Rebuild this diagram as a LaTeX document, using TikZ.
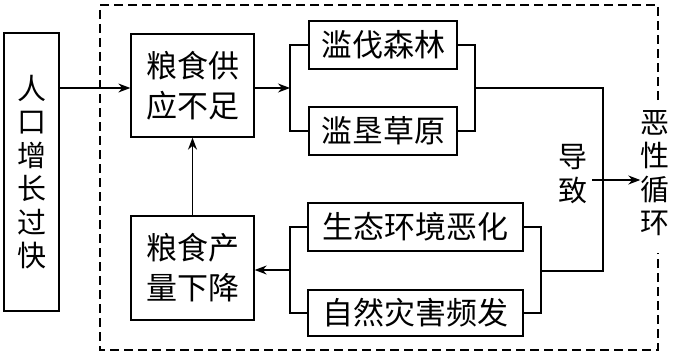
\documentclass[tikz,border=0pt]{standalone}
\usepackage{fontspec}
\setmainfont{Noto Sans CJK SC}
\usepackage{tikz}
\usetikzlibrary{arrows.meta}

\begin{document}
\begin{tikzpicture}[
  x=1pt,y=-1pt,
  box/.style ={rectangle,draw,line width=1.3pt,inner sep=0pt,
               align=center,font=\fontsize{31}{40}\selectfont},
  vtext/.style={inner sep=0pt,align=center,font=\fontsize{29}{33.5}\selectfont},
  link/.style ={line width=1.3pt},
  arr/.style  ={link,-{Stealth[length=12pt,width=9pt]}},
  frame/.style={line width=1.1pt,dash pattern=on 9pt off 5pt}
]
\useasboundingbox (0,0) rectangle (676,353);

% left: cause
\node[box,minimum width=55pt,minimum height=278pt,font=\fontsize{29}{33.5}\selectfont]
  (pop) at (31.5,172) {人\\口\\增\\长\\过\\快};

% inside the cycle
\node[box,minimum width=123pt,minimum height=103pt] (lack)   at (192.5,85.5) {粮食供\\应不足};
\node[box,minimum width=123pt,minimum height=104pt] (drop)   at (192.5,268)  {粮食产\\量下降};
\node[box,minimum width=148pt,minimum height=48pt]  (forest) at (383,45)     {滥伐森林};
\node[box,minimum width=148pt,minimum height=48pt]  (grass)  at (383,131)    {滥垦草原};
\node[box,minimum width=215pt,minimum height=48pt]  (eco)    at (415.5,227)  {生态环境恶化};
\node[box,minimum width=215pt,minimum height=46pt]  (hazard) at (415.5,313)  {自然灾害频发};

\node[vtext] (lead)  at (573,174) {导\\致};
\node[vtext] (cycle) at (655,173) {恶\\性\\循\\环};

% bracket joints
\coordinate (jtl) at (290,88);
\coordinate (jtr) at (475,88);
\coordinate (jbl) at (290,270);
\coordinate (jbr) at (541,271);
\coordinate (turn) at (603,88);
\coordinate (out) at (592,180);

\draw[arr] (pop.east |- 0,88) -- (lack.west |- 0,88);
\draw[arr] (lack.east |- jtl) -- (jtl);
\draw[link] (forest.west) -| (jtl) |- (grass.west);
\draw[link] (forest.east) -| (jtr) |- (grass.east);
\draw[link] (eco.east) -| (jbr) |- (hazard.east);
\draw[link] (eco.west) -| (jbl) |- (hazard.west);
\draw[link] (jtr) -- (turn) |- (jbr);
\draw[arr] (out) -- (cycle.west |- out);
\draw[arr] (jbl) -- (drop.east |- jbl);
\draw[arr] (drop.north) -- (lack.south);

% the vicious cycle
\draw[frame] (658,100) -- (658,5) -- (100,5) -- (100,350) -- (658,350) -- (658,253);
\end{tikzpicture}
\end{document}
